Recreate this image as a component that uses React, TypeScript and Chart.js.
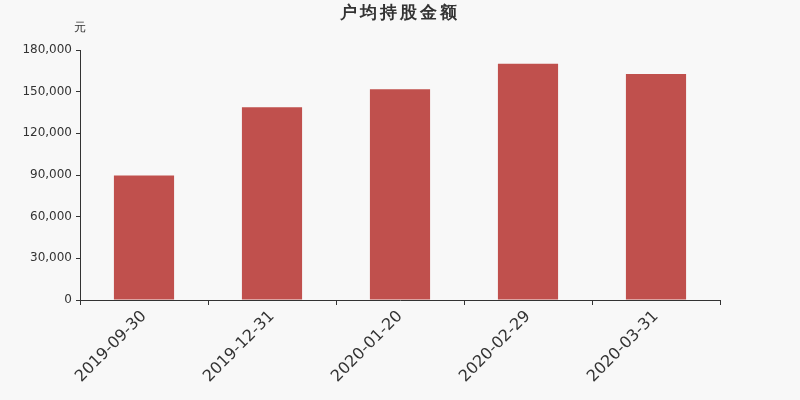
import { useEffect, useRef } from "react"
import { Chart, registerables } from "chart.js"

Chart.register(...registerables)

const categories = ["2019-09-30", "2019-12-31", "2020-01-20", "2020-02-29", "2020-03-31"]
const amounts = [89700, 138700, 151700, 170100, 162700]
const yTicks = [0, 30000, 60000, 90000, 120000, 150000, 180000]

const TEXT = "#333333"
const FONT = "'DejaVu Sans', sans-serif"

// title and unit label drawn by hand so they sit where the reference has them
const headerPlugin = {
  id: "header",
  afterDraw(chart: Chart) {
    const ctx = chart.ctx
    ctx.save()
    ctx.fillStyle = TEXT
    ctx.textAlign = "center"
    ctx.textBaseline = "middle"
    ctx.font = `bold 17px ${FONT}`
    ;(ctx as any).letterSpacing = "3px"
    ctx.fillText("户均持股金额", 400, 14)
    ;(ctx as any).letterSpacing = "0px"
    ctx.font = `12px ${FONT}`
    ctx.fillText("元", 80, 28)
    ctx.restore()
  },
}

export default function App() {
  const canvasRef = useRef<HTMLCanvasElement>(null)

  useEffect(() => {
    if (!canvasRef.current) return
    const chart = new Chart(canvasRef.current, {
      type: "bar",
      data: {
        labels: categories,
        datasets: [
          {
            data: amounts,
            backgroundColor: "#c0504d",
            categoryPercentage: 1,
            barPercentage: 0.47,
          },
        ],
      },
      options: {
        animation: false,
        responsive: false,
        layout: { padding: { top: 50, right: 80, left: 0, bottom: 0 } },
        plugins: {
          legend: { display: false },
          tooltip: { enabled: false },
          title: { display: false },
        },
        scales: {
          x: {
            afterFit: (axis: any) => {
              axis.height = 100
            },
            grid: {
              offset: true,
              drawOnChartArea: false,
              tickLength: 5,
              color: TEXT,
            },
            border: { color: TEXT, width: 1 },
            ticks: {
              color: TEXT,
              font: { family: FONT, size: 16 },
              minRotation: 45,
              maxRotation: 45,
              padding: 2,
            },
          },
          y: {
            min: 0,
            max: 180000,
            afterFit: (axis: any) => {
              axis.width = 80
            },
            afterBuildTicks: (axis: any) => {
              axis.ticks = yTicks.map((v) => ({ value: v }))
            },
            grid: {
              drawOnChartArea: false,
              tickLength: 4,
              color: TEXT,
            },
            border: { color: TEXT, width: 1 },
            ticks: {
              color: TEXT,
              font: { family: FONT, size: 12 },
              padding: 4,
              callback: (v: any) => Number(v).toLocaleString("en-US"),
            },
          },
        },
      },
      plugins: [headerPlugin],
    })
    return () => chart.destroy()
  }, [])

  return (
    <div style={{ position: "absolute", left: 0, top: 0, width: 800, height: 400, background: "#f8f8f8" }}>
      <canvas ref={canvasRef} width={800} height={400} style={{ width: 800, height: 400 }}></canvas>
    </div>
  )
}
